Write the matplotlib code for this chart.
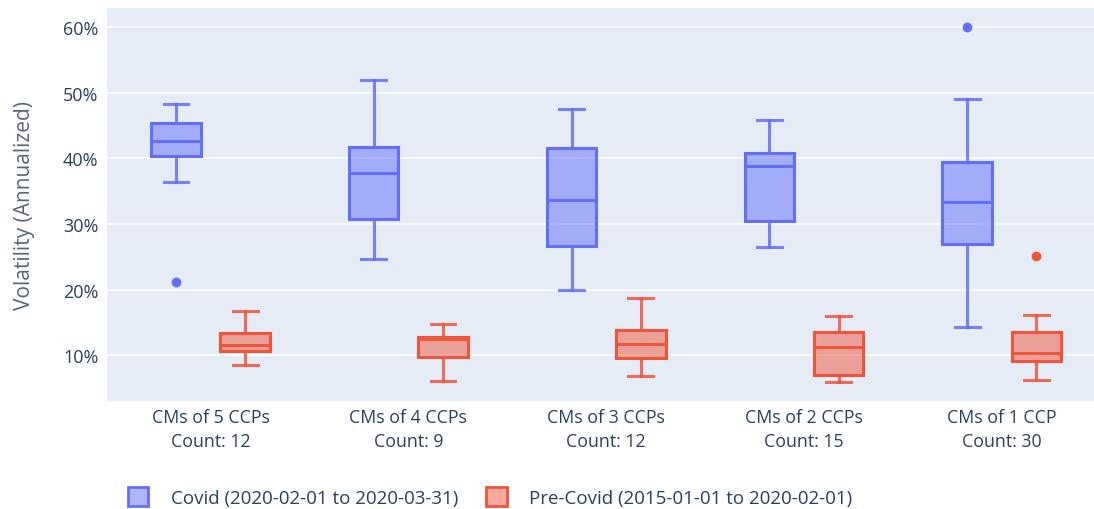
import matplotlib.pyplot as plt
from matplotlib.patches import Patch
from matplotlib.ticker import FuncFormatter

plt.rcParams['font.family'] = ['Open Sans', 'DejaVu Sans']

# categories
groups = ['CMs of 5 CCPs', 'CMs of 4 CCPs', 'CMs of 3 CCPs', 'CMs of 2 CCPs', 'CMs of 1 CCP']
counts = [12, 9, 12, 15, 30]

# Covid box stats (volatility, %)
covid_lo = [36.4, 24.7, 20.0, 26.5, 14.3]
covid_q1 = [40.3, 30.7, 26.6, 30.4, 26.9]
covid_med = [42.7, 37.8, 33.7, 38.8, 33.3]
covid_q3 = [45.4, 41.8, 41.6, 40.9, 39.4]
covid_hi = [48.3, 51.9, 47.5, 45.9, 49.1]
covid_out = [[21.2], [], [], [], [60.0]]

# Pre-Covid box stats
pre_lo = [8.5, 6.1, 6.9, 6.0, 6.3]
pre_q1 = [10.7, 9.8, 9.6, 7.0, 9.1]
pre_med = [11.6, 12.5, 11.7, 11.2, 10.4]
pre_q3 = [13.4, 12.8, 13.9, 13.6, 13.6]
pre_hi = [16.8, 14.7, 18.7, 16.0, 16.2]
pre_out = [[], [], [], [], [25.2]]

blue = '#636efa'
red = '#ef553b'
txt = '#2a3f5f'


def stats(lo, q1, med, q3, hi, out):
    res = []
    for i in range(len(lo)):
        res.append({'whislo': lo[i], 'q1': q1[i], 'med': med[i], 'q3': q3[i],
                    'whishi': hi[i], 'fliers': out[i]})
    return res


fig = plt.figure(figsize=(10.94, 5.10), dpi=100)
ax = fig.add_axes([106.7 / 1094, 1 - 402 / 510, 1 - 106.7 / 1094, (402 - 8.5) / 510])
ax.set_facecolor('#e5ecf6')
for s in ax.spines.values():
    s.set_visible(False)

x = range(len(groups))
for col, st, off in [(blue, stats(covid_lo, covid_q1, covid_med, covid_q3, covid_hi, covid_out), -0.175),
                     (red, stats(pre_lo, pre_q1, pre_med, pre_q3, pre_hi, pre_out), 0.175)]:
    ax.bxp(st, positions=[i + off for i in x], widths=0.25, capwidths=0.125,
           patch_artist=True, manage_ticks=False, zorder=3,
           boxprops=dict(facecolor=col + '80', edgecolor=col, linewidth=2.2),
           whiskerprops=dict(color=col, linewidth=2.2, alpha=0.85),
           capprops=dict(color=col, linewidth=2.2, alpha=0.85),
           medianprops=dict(color=col, linewidth=2.2),
           flierprops=dict(marker='o', markerfacecolor=col, markeredgecolor=col,
                           markersize=6))

ax.set_xlim(-0.525, 4.466)
ax.set_ylim(3.03, 63.0)
ax.set_yticks([10, 20, 30, 40, 50, 60])
ax.yaxis.set_major_formatter(FuncFormatter(lambda v, p: f'{v:.0f}%'))
ax.set_xticks(list(x))
ax.set_xticklabels([f'{g}\nCount: {c}' for g, c in zip(groups, counts)], linespacing=1.45)
ax.grid(axis='y', color='white', linewidth=1.2, zorder=0)
ax.set_axisbelow(True)
ax.tick_params(length=0, labelcolor=txt)
ax.tick_params(axis='y', labelsize=13, pad=6)
ax.tick_params(axis='x', labelsize=12.8, pad=5)
ax.set_ylabel('Volatility (Annualized)', fontsize=15, color='#56657d', labelpad=20)

handles = [Patch(facecolor=blue + '80', edgecolor=blue, linewidth=2),
           Patch(facecolor=red + '80', edgecolor=red, linewidth=2)]
fig.legend(handles, ['Covid (2020-02-01 to 2020-03-31)', 'Pre-Covid (2015-01-01 to 2020-02-01)'],
           loc='center left', bbox_to_anchor=(127.7 / 1094, 1 - 498 / 510), ncol=2,
           frameon=False, fontsize=13.5, handlelength=1.1, handleheight=1.15,
           handletextpad=1.2, columnspacing=1.5, borderpad=0, borderaxespad=0,
           labelcolor=txt)

fig.savefig('out.png', dpi=100)
